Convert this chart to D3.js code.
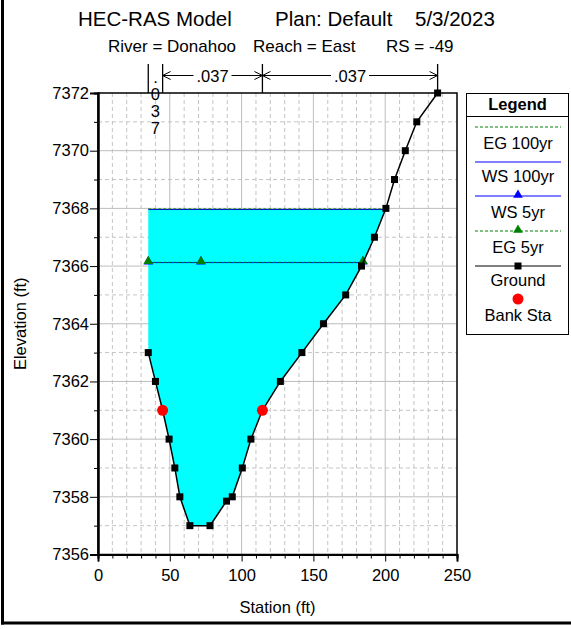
<!DOCTYPE html>
<html><head><meta charset="utf-8">
<script src="https://cdn.jsdelivr.net/npm/d3@7/dist/d3.min.js"></script>
<style>
body{margin:0;background:#fff;}
text{font-family:"Liberation Sans",Arial,sans-serif;fill:#000;}
</style></head>
<body>
<svg id="c" width="571" height="629"></svg>
<script>
// ---------- data ----------
const titleParts = ["HEC-RAS Model", "Plan: Default", "5/3/2023"];
const subtitleParts = ["River = Donahoo", "Reach = East", "RS = -49"];
const groundSta  = [35, 40, 45, 49.5, 53.5, 57, 64, 78, 89.5, 93.5, 100.5, 106.5, 114.5, 127, 142, 157, 172.5, 183.5, 192.5, 200.5, 206.5, 214, 222, 236.5];
const groundElev = [7363, 7362, 7361, 7360, 7359, 7358, 7357, 7357, 7357.85, 7358, 7359, 7360, 7361, 7362, 7363, 7364, 7365, 7366, 7367, 7368, 7369, 7370, 7371, 7372];
const bankSta  = [45, 114.5];
const bankElev = [7361, 7361];
const ws100 = 7367.96, eg100 = 7367.98;
const ws5 = 7366.12, eg5 = 7366.13;
const wsMarkerSta = [35, 71.7, 184.5];
const nBreaks = [35, 45, 114.5, 236.5];
const nValues = [".037", ".037", ".037"];
const xTicks = [0, 50, 100, 150, 200, 250];
const yTicks = [7356, 7358, 7360, 7362, 7364, 7366, 7368, 7370, 7372];
const legendItems = ["EG 100yr", "WS 100yr", "WS 5yr", "EG 5yr", "Ground", "Bank Sta"];

// ---------- drawing ----------
const svg = d3.select("#c");
const x = d3.scaleLinear().domain([0, 250]).range([98, 457]);
const y = d3.scaleLinear().domain([7356, 7372]).range([554.5, 93]);
const GREEN = "#008000", BLUE = "#0000ff";

// outer frame
svg.append("line").attr("x1",2.5).attr("x2",2.5).attr("y1",0).attr("y2",624.5).attr("stroke","#000").attr("stroke-width",3);
svg.append("line").attr("x1",1).attr("x2",571).attr("y1",623).attr("y2",623).attr("stroke","#000").attr("stroke-width",3);

// titles
const tx = [78, 275, 415], sx = [108, 253, 386];
titleParts.forEach((t,i)=>svg.append("text").attr("x",tx[i]).attr("y",26).attr("font-size","20.5px").text(t));
subtitleParts.forEach((t,i)=>svg.append("text").attr("x",sx[i]).attr("y",52).attr("font-size","17px").text(t));

// grid
const g = svg.append("g");
d3.range(0, 251, 10).forEach(v=>{
  if (v===0 || v===250) return;
  const major = v % 50 === 0;
  g.append("line").attr("x1",x(v)).attr("x2",x(v)).attr("y1",y(7372)).attr("y2",y(7356))
   .attr("stroke", major ? "#bdbdbd" : "#c4c4c4").attr("stroke-width",1)
   .attr("stroke-dasharray", major ? null : "4,3");
});
d3.range(7357, 7372, 1).forEach(v=>{
  const major = v % 2 === 0;
  g.append("line").attr("x1",x(0)).attr("x2",x(250)).attr("y1",y(v)).attr("y2",y(v))
   .attr("stroke", major ? "#bdbdbd" : "#c4c4c4").attr("stroke-width",1)
   .attr("stroke-dasharray", major ? null : "4,3");
});

// water fill (WS 100yr)
const pts = groundSta.map((s,i)=>[s, groundElev[i]]);
function rightCross(level){
  for (let i=0;i<pts.length-1;i++){
    const a=pts[i], b=pts[i+1];
    if (a[1] < level && b[1] >= level && a[0] > 100){
      return a[0] + (level-a[1])/(b[1]-a[1])*(b[0]-a[0]);
    }
  }
  return pts[pts.length-1][0];
}
const r100 = rightCross(ws100);
const poly = [[groundSta[0], ws100]];
pts.forEach(p=>{ if (p[0] <= r100) poly.push(p); });
poly.push([r100, ws100]);
svg.append("path").attr("d", d3.line().x(d=>x(d[0])).y(d=>y(d[1]))(poly)+"Z").attr("fill","#00ffff");

// WS/EG lines
svg.append("line").attr("x1",x(groundSta[0])).attr("x2",x(r100)).attr("y1",y(ws100)).attr("y2",y(ws100)).attr("stroke",BLUE).attr("stroke-width",1);
svg.append("line").attr("x1",x(groundSta[0])).attr("x2",x(rightCross(eg100))).attr("y1",y(eg100)).attr("y2",y(eg100)).attr("stroke",GREEN).attr("stroke-width",1).attr("stroke-dasharray","3,2");
const r5 = rightCross(ws5);
svg.append("line").attr("x1",x(groundSta[0])).attr("x2",x(r5)).attr("y1",y(ws5)).attr("y2",y(ws5)).attr("stroke",BLUE).attr("stroke-width",1);
svg.append("line").attr("x1",x(groundSta[0])).attr("x2",x(rightCross(eg5))).attr("y1",y(eg5)).attr("y2",y(eg5)).attr("stroke",GREEN).attr("stroke-width",1).attr("stroke-dasharray","3,2");
const tri = d3.symbol().type(d3.symbolTriangle).size(40);
wsMarkerSta.forEach(s=>{
  svg.append("path").attr("d",tri()).attr("transform",`translate(${x(s)},${y(ws5)-1})`).attr("fill",BLUE);
  svg.append("path").attr("d",tri()).attr("transform",`translate(${x(s)},${y(eg5)-1})`).attr("fill",GREEN);
});

// ground
svg.append("path").attr("d", d3.line().x(d=>x(d[0])).y(d=>y(d[1]))(pts)).attr("fill","none").attr("stroke","#000").attr("stroke-width",1.5);
svg.selectAll("rect.gp").data(pts).enter().append("rect").attr("class","gp")
  .attr("x",d=>x(d[0])-3.5).attr("y",d=>y(d[1])-3.5).attr("width",7).attr("height",7).attr("fill","#000");
// bank stations
bankSta.forEach((s,i)=>svg.append("circle").attr("cx",x(s)).attr("cy",y(bankElev[i])).attr("r",5.5).attr("fill","#ff0000"));

// plot border
svg.append("rect").attr("x",x(0)).attr("y",y(7372)).attr("width",x(250)-x(0)).attr("height",y(7356)-y(7372))
  .attr("fill","none").attr("stroke","#000").attr("stroke-width",1.5);

// axes
const yAxis = d3.axisLeft(y).tickValues(yTicks).tickSize(8).tickPadding(1).tickFormat(d3.format("d"));
const yMinor = d3.axisLeft(y).tickValues(d3.range(7357,7372,2)).tickSize(4).tickFormat("");
const xAxis = d3.axisBottom(x).tickValues(xTicks).tickSize(7).tickPadding(8).tickFormat(d3.format("d"));
const xMinor = d3.axisBottom(x).tickValues(d3.range(10,250,10).filter(v=>v%50)).tickSize(4).tickFormat("");
function styleAxis(sel){
  sel.select(".domain").attr("stroke","#000").attr("stroke-width",2);
  sel.selectAll(".tick line").attr("stroke","#000");
  sel.selectAll("text").attr("font-size","16.5px").attr("font-family","Liberation Sans, Arial, sans-serif").attr("fill","#000");
}
svg.append("g").attr("transform",`translate(${x(0)},0)`).call(yAxis).call(styleAxis);
svg.append("g").attr("transform",`translate(${x(0)},0)`).call(yMinor).call(styleAxis);
svg.append("g").attr("transform",`translate(0,${y(7356)})`).call(xAxis).call(styleAxis);
svg.append("g").attr("transform",`translate(0,${y(7356)})`).call(xMinor).call(styleAxis);

// axis titles
svg.append("text").attr("x",(x(0)+x(250))/2).attr("y",613).attr("text-anchor","middle").attr("font-size","16.5px").text("Station (ft)");
svg.append("text").attr("transform",`translate(26,${(y(7356)+y(7372))/2}) rotate(-90)`).attr("text-anchor","middle").attr("font-size","16.5px").text("Elevation (ft)");

// n-value breaks
const nTop = 64, nY = 75.5;
nBreaks.forEach(s=>svg.append("line").attr("x1",x(s)).attr("x2",x(s)).attr("y1",nTop).attr("y2",y(7372)).attr("stroke","#000").attr("stroke-width",1.3));
function arrowHead(px, dir){
  svg.append("path").attr("d",`M${px+dir*8},${nY-4}L${px},${nY}L${px+dir*8},${nY+4}`).attr("fill","none").attr("stroke","#000").attr("stroke-width",1);
}
nValues.forEach((v,i)=>{
  const a = x(nBreaks[i]), b = x(nBreaks[i+1]);
  if (b - a < 30){
    // narrow zone: characters stacked vertically in one text element
    const chars = v.split("");
    const cy = [83, 100, 117, 134];
    const t = svg.append("text").attr("text-anchor","middle").attr("font-size","16.5px");
    chars.forEach((c,k)=>t.append("tspan").attr("x",(a+b)/2).attr("y",cy[k]).text(c));
  } else {
    const m = (a+b)/2;
    svg.append("text").attr("x",m).attr("y",nY+6).attr("text-anchor","middle").attr("font-size","16.5px").text(v);
    svg.append("line").attr("x1",a).attr("x2",m-19).attr("y1",nY).attr("y2",nY).attr("stroke","#000");
    svg.append("line").attr("x1",m+19).attr("x2",b).attr("y1",nY).attr("y2",nY).attr("stroke","#000");
    arrowHead(a, 1); arrowHead(b, -1);
  }
});

// legend
const L = {x:466, y:93, w:102, h:241};
svg.append("rect").attr("x",L.x+0.5).attr("y",L.y+0.5).attr("width",L.w).attr("height",L.h).attr("fill","#fff").attr("stroke","#000");
svg.append("line").attr("x1",L.x).attr("x2",L.x+L.w).attr("y1",116.5).attr("y2",116.5).attr("stroke","#000");
svg.append("text").attr("x",L.x+L.w/2+0.5).attr("y",110).attr("text-anchor","middle").attr("font-size","16.5px").attr("font-weight","bold").text("Legend");
const lx1 = 475, lx2 = 561, lcx = 518;
const lineY = [127, 162, 196, 231, 266, 299];
const textY = [149, 182, 218, 253, 286, 321];
legendItems.forEach((t,i)=>svg.append("text").attr("x",lcx).attr("y",textY[i]).attr("text-anchor","middle").attr("font-size","16.5px").text(t));
svg.append("line").attr("x1",lx1).attr("x2",lx2).attr("y1",lineY[0]).attr("y2",lineY[0]).attr("stroke",GREEN).attr("stroke-dasharray","3,2");
svg.append("line").attr("x1",lx1).attr("x2",lx2).attr("y1",lineY[1]).attr("y2",lineY[1]).attr("stroke",BLUE);
svg.append("line").attr("x1",lx1).attr("x2",lx2).attr("y1",lineY[2]).attr("y2",lineY[2]).attr("stroke",BLUE);
svg.append("path").attr("d",tri()).attr("transform",`translate(${lcx},${lineY[2]-1})`).attr("fill",BLUE);
svg.append("line").attr("x1",lx1).attr("x2",lx2).attr("y1",lineY[3]).attr("y2",lineY[3]).attr("stroke",GREEN).attr("stroke-dasharray","3,2");
svg.append("path").attr("d",tri()).attr("transform",`translate(${lcx},${lineY[3]-1})`).attr("fill",GREEN);
svg.append("line").attr("x1",lx1).attr("x2",lx2).attr("y1",lineY[4]).attr("y2",lineY[4]).attr("stroke","#000");
svg.append("rect").attr("x",lcx-3.5).attr("y",lineY[4]-3.5).attr("width",7).attr("height",7).attr("fill","#000");
svg.append("circle").attr("cx",lcx).attr("cy",lineY[5]).attr("r",5.5).attr("fill","#ff0000");
</script>
</body></html>
